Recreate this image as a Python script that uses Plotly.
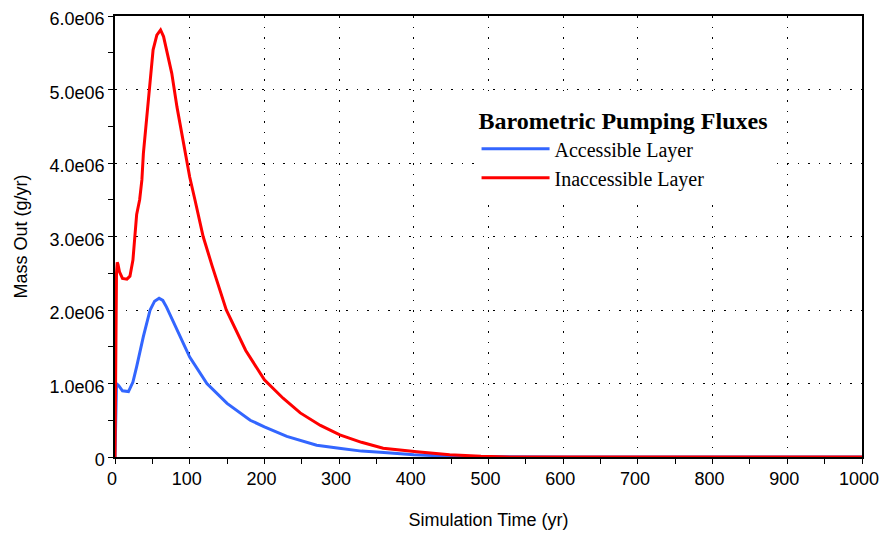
import plotly.graph_objects as go

# ── DATA ─────────────────────────────────────────────────────────────────
# simulation time in years, mass out in 1e6 g/yr
acc_time = [0, 1, 2, 5, 10, 18, 24, 29, 38, 47, 53, 59, 64, 69, 83, 100, 123,
            150, 181, 200, 230, 270, 300, 330, 360, 400, 450, 530, 600, 700,
            800, 900, 1000]
acc_mass = [0, 0.64, 1.0, 0.97, 0.9, 0.89, 1.02, 1.23, 1.64, 2.0, 2.12, 2.16,
            2.13, 2.04, 1.73, 1.36, 1.0, 0.73, 0.5, 0.41, 0.28, 0.16, 0.12,
            0.08, 0.06, 0.03, 0.01, 0, 0, 0, 0, 0, 0]

inacc_time = [0, 1, 2, 3, 4, 6, 10, 16, 20, 24, 29, 33, 36, 38, 42, 47, 51, 56,
              61, 65, 69, 76, 83, 91, 100, 107, 118, 130, 149, 175, 200, 225,
              248, 275, 301, 330, 359, 404, 448, 490, 530, 600, 700, 800, 900,
              1000]
inacc_mass = [0, 1.7, 2.5, 2.65, 2.62, 2.52, 2.43, 2.42, 2.46, 2.68, 3.3, 3.5,
              3.77, 4.13, 4.58, 5.17, 5.54, 5.74, 5.81, 5.72, 5.54, 5.22, 4.76,
              4.31, 3.81, 3.5, 3.0, 2.6, 2.0, 1.45, 1.05, 0.8, 0.6, 0.43, 0.3,
              0.2, 0.12, 0.07, 0.03, 0.01, 0, 0, 0, 0, 0, 0]

y_ticks = [0, 1e6, 2e6, 3e6, 4e6, 5e6, 6e6]
y_labels = ['0', '1.0e06', '2.0e06', '3.0e06', '4.0e06', '5.0e06', '6.0e06']

# ── FIGURE ───────────────────────────────────────────────────────────────
fig = go.Figure()
fig.add_trace(go.Scatter(
    x=acc_time, y=[v * 1e6 for v in acc_mass], mode='lines',
    name='Accessible Layer', line=dict(color='#3366FF', width=3)
))
fig.add_trace(go.Scatter(
    x=inacc_time, y=[v * 1e6 for v in inacc_mass], mode='lines',
    name='Inaccessible Layer', line=dict(color='#FF0000', width=3)
))

sans = 'Liberation Sans, Arial, sans-serif'
serif = 'Liberation Serif, Times New Roman, serif'
tick_font = dict(family=sans, size=18, color='black')
title_font = dict(family=sans, size=18, color='black')
grid = dict(showgrid=True, gridcolor='black', gridwidth=1.3, griddash='1.5px,9px',
            showline=True, linecolor='black', linewidth=1.5, mirror=True,
            ticks='outside', ticklen=5, tickcolor='black', tickwidth=1.3,
            zeroline=False, tickfont=tick_font, automargin=False,
            ticklabeloverflow='allow')

fig.update_xaxes(range=[0, 1000], dtick=100, ticklabelshift=-3,
                 minor=dict(dtick=50, ticks='outside', ticklen=5, tickcolor='black', showgrid=False),
                 title=dict(text='Simulation Time (yr)', font=title_font, standoff=26),
                 **grid)
fig.update_yaxes(range=[0, 6e6], tickvals=y_ticks, ticktext=y_labels, ticklabelshift=3,
                 minor=dict(dtick=5e5, ticks='outside', ticklen=5, tickcolor='black', showgrid=False),
                 title=dict(text='Mass Out (g/yr)', font=title_font, standoff=17),
                 **grid)

# page body adds an 8px margin, so keep the figure inside the window
fig.update_layout(
    width=872, height=522,
    margin=dict(l=107, r=18, t=8, b=73),
    plot_bgcolor='white', paper_bgcolor='white',
    legend=dict(
        x=0.484, y=0.814, xanchor='left', yanchor='top',
        bgcolor='white', borderwidth=0,
        font=dict(family=serif, size=20, color='black'),
        title=dict(text='<b>Barometric Pumping Fluxes</b>', side='top center',
                   font=dict(family=serif, size=24, color='black')),
        itemwidth=68,
    ),
)

fig.write_html('out.html')
